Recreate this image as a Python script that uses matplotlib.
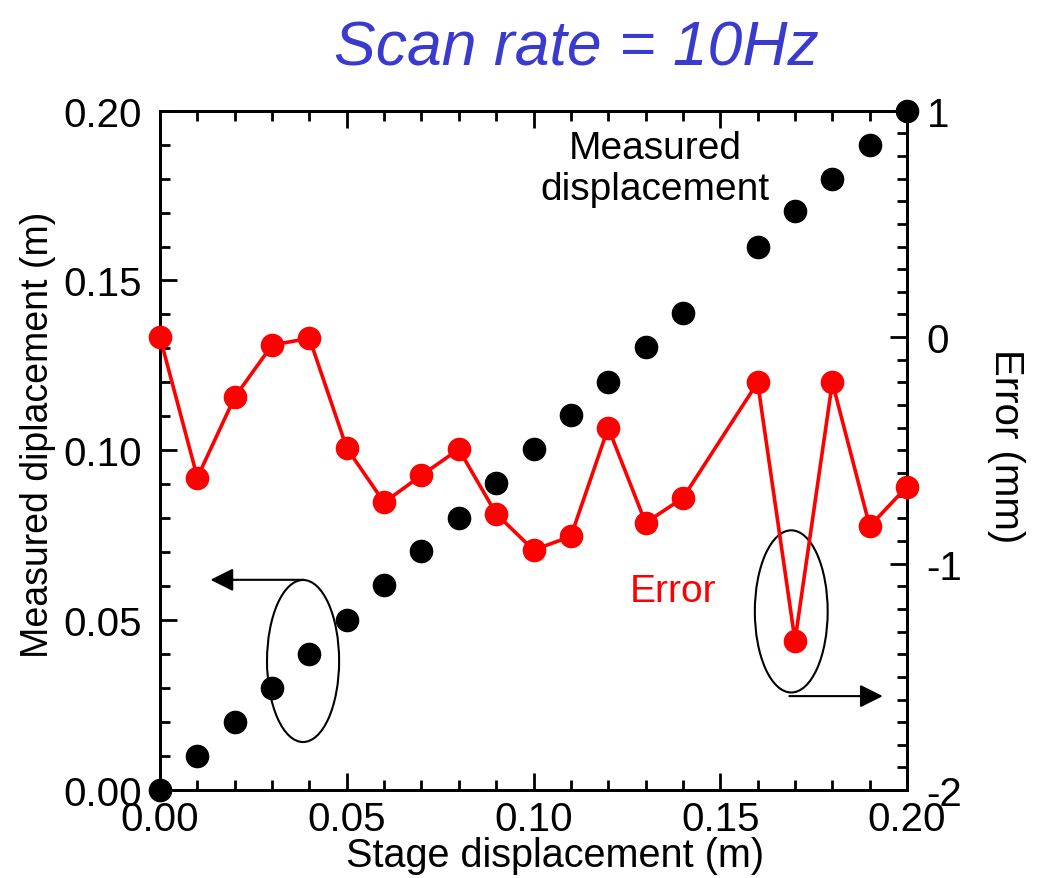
import matplotlib.pyplot as plt
from matplotlib.patches import Ellipse
from matplotlib.ticker import MultipleLocator

plt.rcParams['font.family'] = ['Liberation Sans', 'DejaVu Sans']

# measured displacement vs stage displacement (m)
stage = [0.00, 0.01, 0.02, 0.03, 0.04, 0.05, 0.06, 0.07, 0.08, 0.09, 0.10,
         0.11, 0.12, 0.13, 0.14, 0.16, 0.17, 0.18, 0.19, 0.20]
measured = [0.000, 0.010, 0.020, 0.030, 0.040, 0.050, 0.0605, 0.0705, 0.080, 0.0905,
            0.1005, 0.1105, 0.120, 0.1305, 0.1405, 0.160, 0.1705, 0.180, 0.190, 0.200]
# error (mm)
error = [0.0, -0.62, -0.265, -0.035, -0.005, -0.49, -0.73, -0.61, -0.495, -0.78,
         -0.94, -0.88, -0.40, -0.82, -0.71, -0.20, -1.34, -0.20, -0.835, -0.66]

fig = plt.figure(figsize=(10.39, 8.79), dpi=100)
ax = fig.add_axes([0.154, 0.100, 0.719, 0.773])
ax2 = ax.twinx()

ax.plot(stage, measured, 'o', color='black', markersize=16, clip_on=False, zorder=3)
ax2.plot(stage, error, '-o', color='#ff0000', markersize=16, linewidth=2.6,
         clip_on=False, zorder=3)

ax.set_xlim(0, 0.2)
ax.set_ylim(0, 0.2)
ax2.set_ylim(-2, 1)

ax.xaxis.set_major_locator(MultipleLocator(0.05))
ax.xaxis.set_minor_locator(MultipleLocator(0.01))
ax.yaxis.set_major_locator(MultipleLocator(0.05))
ax.yaxis.set_minor_locator(MultipleLocator(0.01))
ax2.yaxis.set_major_locator(MultipleLocator(1))
ax2.yaxis.set_minor_locator(MultipleLocator(0.1))
ax.xaxis.set_major_formatter(lambda v, p: f'{v:.2f}')
ax.yaxis.set_major_formatter(lambda v, p: f'{v:.2f}')
ax2.yaxis.set_major_formatter(lambda v, p: f'{v:.0f}')

ax.tick_params(axis='both', which='both', direction='in', top=True, right=False,
               labelsize=29, width=2)
ax.tick_params(axis='x', pad=7)
ax.tick_params(axis='y', pad=13)
ax.tick_params(which='major', length=12)
ax.tick_params(which='minor', length=7)
ax2.tick_params(axis='y', which='both', direction='in', labelsize=29, width=2, pad=14)
ax2.tick_params(which='major', length=12)
ax2.tick_params(which='minor', length=7)
for a in (ax, ax2):
    for s in a.spines.values():
        s.set_linewidth(2)

ax.set_xlabel('Stage displacement (m)', fontsize=28.5, va='top')
ax.xaxis.set_label_coords(0.529, -0.068)
ax.set_ylabel('Measured diplacement (m)', fontsize=27)
ax.yaxis.set_label_coords(-0.139, 0.524)
ax2.set_ylabel('Error (mm)', fontsize=29, rotation=270)
ax2.yaxis.set_label_coords(1.158, 0.507)
fig.suptitle('Scan rate = 10Hz', fontsize=45, style='italic', color='#3a3acf',
             x=0.555, y=0.978)

ax.text(0.1325, 0.183, 'Measured\ndisplacement', fontsize=28, ha='center', va='center',
        linespacing=1.2)
ax2.text(0.1373, -1.12, 'Error', fontsize=28, color='#ff0000', ha='center', va='center')

# ellipses with arrows pointing at the matching axis
ax.add_patch(Ellipse((0.0383, 0.038), 0.0193, 0.0477, fill=False, lw=1.5, color='black'))
ax.annotate('', xy=(0.0135, 0.0619), xytext=(0.0385, 0.0619),
            arrowprops=dict(arrowstyle='-|>', color='black', lw=1.5,
                            mutation_scale=35, shrinkA=0, shrinkB=0))
ax2.add_patch(Ellipse((0.169, -1.211), 0.0195, 0.716, fill=False, lw=1.5, color='black',
                      clip_on=False))
ax2.annotate('', xy=(0.1935, -1.585), xytext=(0.1685, -1.585),
             arrowprops=dict(arrowstyle='-|>', color='black', lw=1.5,
                             mutation_scale=35, shrinkA=0, shrinkB=0),
             annotation_clip=False)

fig.savefig('out.png', dpi=100)
